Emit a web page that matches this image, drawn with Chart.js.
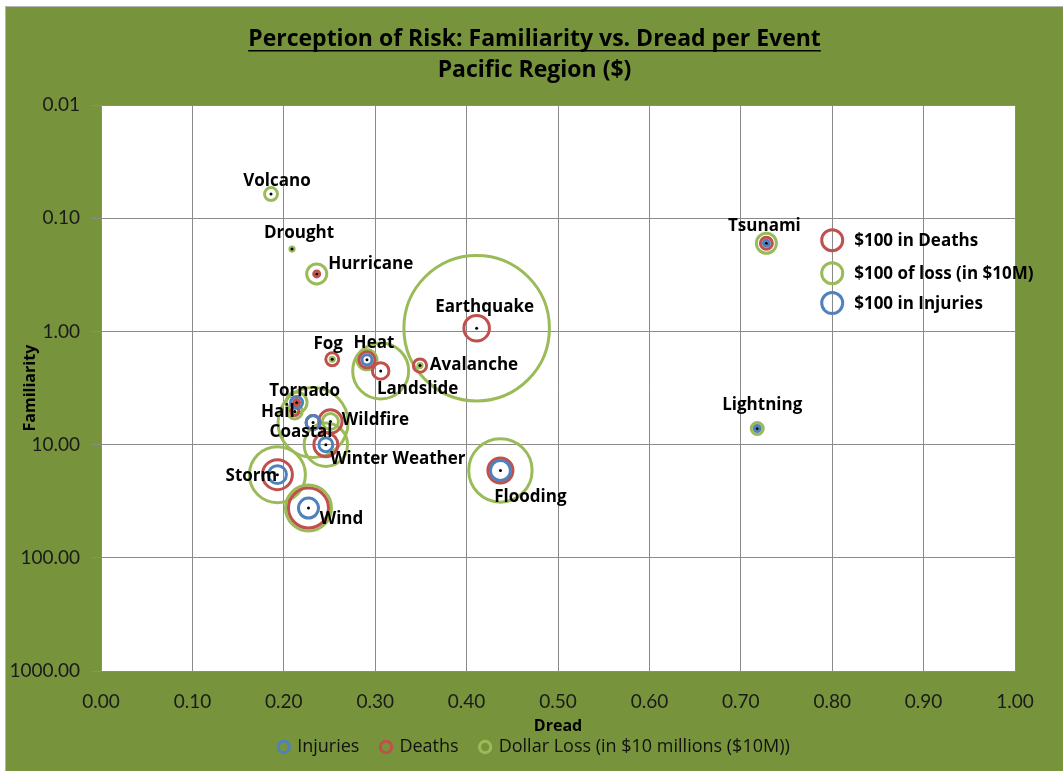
<!DOCTYPE html>
<html>
<head>
<meta charset="utf-8">
<title>Perception of Risk</title>
<script src="https://cdn.jsdelivr.net/npm/chart.js@4.4.1/dist/chart.umd.min.js"></script>
<style>
  html, body { margin: 0; padding: 0; background: #fff; }
  #wrap {
    position: absolute; left: 5px; top: 6px; width: 1057px; height: 764px;
    border-left: 1px solid #b4b4b4; border-top: 1px solid #b4b4b4;
    background: #77933c;
  }
</style>
</head>
<body>
<div id="wrap"><canvas id="riskChart"></canvas></div>
<script>
// events and their scores
const events = ['Volcano', 'Drought', 'Hurricane', 'Earthquake', 'Fog', 'Heat', 'Landslide', 'Avalanche',
  'Tornado', 'Hail', 'Wildfire', 'Coastal', 'Winter Weather', 'Storm', 'Wind', 'Flooding', 'Tsunami', 'Lightning'];
const dread = [0.186, 0.209, 0.236, 0.411, 0.253, 0.291, 0.306, 0.349,
  0.214, 0.212, 0.251, 0.232, 0.246, 0.193, 0.227, 0.437, 0.728, 0.718];
const familiarity = [0.061, 0.187, 0.31, 0.935, 1.76, 1.78, 2.23, 2.0,
  4.24, 5.09, 6.24, 6.37, 10.0, 18.4, 36.3, 16.9, 0.166, 7.19];
// bubble values, in $ (a $100 bubble is the key size)
const injuries = [0, 0, 0, 0, 0, 23, 0, 0, 33, 0, 0, 44, 44, 73, 91, 91, 8, 8];
const deaths = [0, 0, 8, 148, 38, 58, 62, 40, 8, 15, 124, 44, 130, 204, 363, 142, 33, 0];
const dollarLoss = [38, 4, 91, 4800, 4, 91, 711, 4, 100, 50, 58, 1111, 427, 711, 480, 911, 91, 33];

// in-plot key
const keyLabels = ['$100 in Deaths', '$100 of loss (in $10M)', '$100 in Injuries'];
const keyDread = [0.8, 0.8, 0.8];
const keyFamiliarity = [0.156, 0.305, 0.56];
const keyValue = [100, 100, 100];

const xTicks = [0, 0.1, 0.2, 0.3, 0.4, 0.5, 0.6, 0.7, 0.8, 0.9, 1.0];
const yTicks = [0.01, 0.1, 1, 10, 100, 1000];

const BLUE = '#4f81bd', RED = '#c0504d', GREEN = '#9bbb59';
const FONT = 'Lato, "DejaVu Sans", sans-serif';
const WIDE = '"Open Sans", Lato, sans-serif';

// bubble area proportional to value, $100 -> 10.5px radius
const radius = v => 10.5 * Math.sqrt(v / 100);

function bubbles(values) {
  return events.map((e, i) => ({ x: dread[i], y: familiarity[i], r: radius(values[i]) }))
    .filter(p => p.r > 0);
}

// label placement relative to each event's centre (px)
const labelOffsets = {
  'Volcano': [6, -13], 'Drought': [7, -16], 'Hurricane': [54, -10], 'Earthquake': [8, -21],
  'Fog': [-4, -15], 'Heat': [7, -17], 'Landslide': [37, 18], 'Avalanche': [54, 0],
  'Tornado': [8, -11], 'Hail': [-17, 1], 'Wildfire': [45, -1], 'Coastal': [-12, 10],
  'Winter Weather': [72, 14], 'Storm': [-26, 2], 'Wind': [33, 11], 'Flooding': [30, 27],
  'Tsunami': [-2, -17], 'Lightning': [5, -23]
};

const plotBackground = {
  id: 'plotBackground',
  beforeDraw(chart) {
    const { ctx, chartArea: a } = chart;
    ctx.save();
    ctx.fillStyle = '#ffffff';
    ctx.fillRect(a.left, a.top, a.right - a.left, a.bottom - a.top);
    ctx.restore();
  }
};

// titles and legend are centred on the whole picture, not on the plot
const centreBlocks = {
  id: 'centreBlocks',
  afterLayout(chart) {
    const subText = chart.options.plugins.subtitle.text;
    chart.boxes.forEach(b => {
      const isTitle = b === chart.titleBlock || (b.options && b.options.text === subText);
      if (isTitle || b === chart.legend) {
        b.left = 4;
        b.right = chart.width - 4;
        b.width = b.right - b.left;
      }
    });
  }
};

const pointLabels = {
  id: 'pointLabels',
  afterDatasetsDraw(chart) {
    const ctx = chart.ctx;
    ctx.save();
    ctx.fillStyle = '#000';
    ctx.textBaseline = 'middle';
    // event names
    ctx.font = 'bold 17px ' + WIDE;
    ctx.textAlign = 'center';
    const dots = chart.getDatasetMeta(3).data;
    events.forEach((name, i) => {
      const off = labelOffsets[name] || [0, -14];
      ctx.fillText(name, dots[i].x + off[0], dots[i].y + off[1]);
    });
    // key labels
    ctx.font = 'bold 17px ' + WIDE;
    ctx.textAlign = 'left';
    const keys = chart.getDatasetMeta(4).data;
    keyLabels.forEach((t, i) => ctx.fillText(t, keys[i].x + 22, keys[i].y + 1));
    ctx.restore();
  }
};

const titleUnderline = {
  id: 'titleUnderline',
  afterDraw(chart) {
    const tb = chart.titleBlock;
    if (!tb) return;
    const ctx = chart.ctx;
    const opts = chart.options.plugins.title;
    ctx.save();
    ctx.font = `bold ${opts.font.size}px ${WIDE}`;
    const w = ctx.measureText(opts.text).width;
    const cx = (tb.left + tb.right) / 2;
    const y = tb.top + opts.padding.top + opts.font.size * 1.2 / 2 + 11;
    ctx.strokeStyle = '#000';
    ctx.lineWidth = 1.5;
    ctx.beginPath();
    ctx.moveTo(cx - w / 2, y);
    ctx.lineTo(cx + w / 2, y);
    ctx.stroke();
    ctx.restore();
  }
};

new Chart(document.getElementById('riskChart'), {
  type: 'bubble',
  data: {
    datasets: [
      { label: 'Injuries', data: bubbles(injuries), borderColor: BLUE, backgroundColor: 'rgba(0,0,0,0)', borderWidth: 3, order: 1 },
      { label: 'Deaths', data: bubbles(deaths), borderColor: RED, backgroundColor: 'rgba(0,0,0,0)', borderWidth: 3, order: 1 },
      { label: 'Dollar Loss (in $10 millions ($10M))', data: bubbles(dollarLoss), borderColor: GREEN, backgroundColor: 'rgba(0,0,0,0)', borderWidth: 3, order: 1 },
      { label: 'centre', data: events.map((e, i) => ({ x: dread[i], y: familiarity[i], r: 1.5 })),
        borderColor: '#000', backgroundColor: '#000', borderWidth: 0, order: 0 },
      { label: 'key', data: keyLabels.map((t, i) => ({ x: keyDread[i], y: keyFamiliarity[i], r: radius(keyValue[i]) })),
        borderColor: [RED, GREEN, BLUE], backgroundColor: 'rgba(0,0,0,0)', borderWidth: 3, order: 1 }
    ]
  },
  options: {
    responsive: true,
    maintainAspectRatio: false,
    animation: false,
    events: [],
    layout: { autoPadding: false, padding: { left: 4, right: 48, top: 0, bottom: 5 } },
    plugins: {
      title: {
        display: true,
        text: 'Perception of Risk: Familiarity vs. Dread per Event',
        color: '#000',
        font: { family: WIDE, size: 23, weight: 'bold' },
        padding: { top: 19, bottom: 0 }
      },
      subtitle: {
        display: true,
        text: 'Pacific Region ($)',
        color: '#000',
        font: { family: WIDE, size: 23, weight: 'bold' },
        padding: { top: 3, bottom: 21 }
      },
      legend: {
        position: 'bottom',
        labels: {
          color: '#111',
          font: { family: WIDE, size: 18 },
          usePointStyle: true,
          pointStyle: 'circle',
          boxWidth: 9,
          boxHeight: 8,
          padding: 22,
          filter: item => item.datasetIndex < 3
        }
      },
      tooltip: { enabled: false }
    },
    scales: {
      x: {
        type: 'linear',
        min: 0, max: 1,
        afterBuildTicks: s => { s.ticks = xTicks.map(v => ({ value: v })); },
        afterFit: s => { s.height = 45; },
        ticks: { color: '#1a1a1a', font: { family: FONT, size: 19 }, padding: 19, maxRotation: 0,
          callback: v => Number(v).toFixed(2) },
        grid: { color: '#8a8a8a', drawTicks: false },
        border: { color: '#8a8a8a' },
        title: { display: true, text: 'Dread', color: '#000', font: { family: WIDE, size: 16, weight: 'bold' },
          padding: { top: 0, bottom: -20 } }
      },
      y: {
        type: 'logarithmic',
        reverse: true,
        min: 0.01, max: 1000,
        afterBuildTicks: s => { s.ticks = yTicks.map(v => ({ value: v })); },
        afterFit: s => { s.width = 91; },
        ticks: { color: '#1a1a1a', font: { family: FONT, size: 19 }, padding: 12,
          callback: v => Number(v).toFixed(2) },
        grid: { color: '#8a8a8a', tickLength: 9 },
        border: { color: '#8a8a8a' },
        title: { display: true, text: 'Familiarity', color: '#000', font: { family: WIDE, size: 16, weight: 'bold' },
          padding: { top: 11, bottom: 0 } }
      }
    }
  },
  plugins: [plotBackground, centreBlocks, pointLabels, titleUnderline]
});
</script>
</body>
</html>
